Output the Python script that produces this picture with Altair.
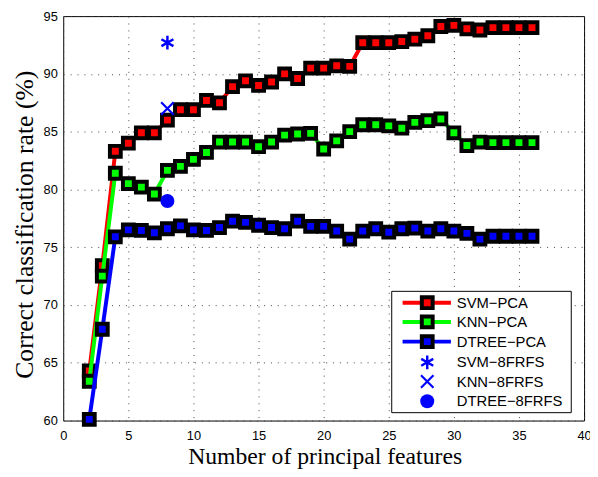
import altair as alt
import pandas as pd

features = list(range(2, 37))
svm_pca = [64.3, 73.4, 83.3, 84.0, 84.9, 84.9, 86.0, 86.9, 86.9, 87.7, 87.5, 88.9, 89.4, 89.0,
           89.3, 90.0, 89.6, 90.5, 90.5, 90.7, 90.65, 92.7, 92.7, 92.7, 92.8, 93.0, 93.3, 94.1,
           94.2, 93.9, 93.8, 94.0, 94.0, 94.0, 94.0]
knn_pca = [63.4, 72.5, 81.4, 80.5, 80.2, 79.6, 81.65, 82.0, 82.6, 83.2, 84.1, 84.1, 84.1, 83.7,
           84.1, 84.7, 84.8, 84.85, 83.5, 84.2, 85.0, 85.6, 85.6, 85.5, 85.3, 85.8, 85.95, 86.1,
           84.9, 83.8, 84.1, 84.05, 84.05, 84.05, 84.05]
dtree_pca = [60.1, 67.9, 75.9, 76.5, 76.45, 76.25, 76.6, 76.85, 76.5, 76.45, 76.7, 77.25, 77.15,
             76.9, 76.7, 76.6, 77.25, 76.8, 76.8, 76.4, 75.7, 76.4, 76.6, 76.3, 76.6, 76.65, 76.4,
             76.6, 76.4, 76.2, 75.7, 75.95, 75.95, 75.95, 75.95]

frfs_x = 8
svm_8frfs = 92.7
knn_8frfs = 87.0
dtree_8frfs = 79.0

series_names = ["SVM−PCA", "KNN−PCA", "DTREE−PCA"]
series_vals = [svm_pca, knn_pca, dtree_pca]
series_colors = ["#ff0000", "#00ff00", "#0000ff"]
frfs_names = ["SVM−8FRFS", "KNN−8FRFS", "DTREE−8FRFS"]

W, H = 528, 410

xscale = alt.Scale(domain=[0, 40], nice=False, zero=False)
yscale = alt.Scale(domain=[60, 95], nice=False, zero=False)

x_axis = alt.Axis(values=list(range(0, 41, 5)), title="Number of principal features",
                  grid=True, ticks=False, tickSize=0, domain=False, labelPadding=9,
                  labelFont="Liberation Sans", labelFontSize=13, labelColor="#000",
                  titleFont="Liberation Serif", titleFontSize=24, titleFontWeight="normal",
                  titleColor="#000", titleBaseline="alphabetic", titleY=44, titleX=W / 2 + 1,
                  gridColor="#444", gridDash=[1, 6], gridWidth=1, labelFlush=False)
y_axis = alt.Axis(values=list(range(60, 96, 5)), title="Correct classification rate (%)",
                  grid=True, ticks=False, tickSize=0, domain=False, labelPadding=6,
                  labelFont="Liberation Sans", labelFontSize=13, labelColor="#000",
                  titleFont="Liberation Serif", titleFontSize=26, titleFontWeight="normal",
                  titleColor="#000", titleBaseline="alphabetic", titleX=-31, titleY=211,
                  titleAngle=-90, gridColor="#444", gridDash=[1, 6], gridWidth=1)


def enc():
    return dict(x=alt.X("x:Q", scale=xscale, axis=x_axis),
                y=alt.Y("y:Q", scale=yscale, axis=y_axis))


layers = []
for i, (name, vals, col) in enumerate(zip(series_names, series_vals, series_colors)):
    df = pd.DataFrame({"x": features, "y": vals, "s": name})
    line = alt.Chart(df).mark_line(color=col, strokeWidth=4).encode(**enc())
    pts = alt.Chart(df).mark_point(shape="square", filled=True, fill=col, stroke="#000",
                                   strokeWidth=4, size=121, opacity=1).encode(**enc())
    layers += [line, pts]

asterisk = "M0,-1L0,1M-0.87,-0.5L0.87,0.5M-0.87,0.5L0.87,-0.5"
xmark = "M-1,-1L1,1M-1,1L1,-1"

df_svm8 = pd.DataFrame({"x": [frfs_x], "y": [svm_8frfs]})
df_knn8 = pd.DataFrame({"x": [frfs_x], "y": [knn_8frfs]})
df_dt8 = pd.DataFrame({"x": [frfs_x], "y": [dtree_8frfs]})
layers.append(alt.Chart(df_svm8).mark_point(shape=asterisk, filled=False, stroke="#0000ff",
                                            strokeWidth=2.5, size=196, opacity=1).encode(**enc()))
layers.append(alt.Chart(df_knn8).mark_point(shape=xmark, filled=False, stroke="#0000ff",
                                            strokeWidth=2.2, size=160, opacity=1).encode(**enc()))
layers.append(alt.Chart(df_dt8).mark_point(shape="circle", filled=True, fill="#0000ff",
                                           size=201, opacity=1).encode(**enc()))

# Legend (manual, MATLAB-style box)
base = alt.Chart(pd.DataFrame({"a": [0]}))
lx0, lx1, ly0, ly1 = 333, 515, 279, 402
layers.append(base.mark_rect(fill="#fff", stroke="#000", strokeWidth=1).encode(
    x=alt.value(lx0), x2=alt.value(lx1), y=alt.value(ly0), y2=alt.value(ly1)))
row_y = [290.5, 310, 330, 351, 370.5, 390.5]
sym_x = 369
for i, (name, col) in enumerate(zip(series_names, series_colors)):
    layers.append(base.mark_rule(color=col, strokeWidth=4).encode(
        x=alt.value(344), x2=alt.value(393), y=alt.value(row_y[i])))
    layers.append(base.mark_point(shape="square", filled=True, fill=col, stroke="#000",
                                  strokeWidth=4, size=121, opacity=1).encode(
        x=alt.value(sym_x), y=alt.value(row_y[i])))
layers.append(base.mark_point(shape=asterisk, filled=False, stroke="#0000ff", strokeWidth=2.5,
                              size=196, opacity=1).encode(x=alt.value(sym_x), y=alt.value(row_y[3])))
layers.append(base.mark_point(shape=xmark, filled=False, stroke="#0000ff", strokeWidth=2.2,
                              size=160, opacity=1).encode(x=alt.value(sym_x), y=alt.value(row_y[4])))
layers.append(base.mark_point(shape="circle", filled=True, fill="#0000ff", size=201,
                              opacity=1).encode(x=alt.value(sym_x), y=alt.value(row_y[5])))
for i, name in enumerate(series_names + frfs_names):
    layers.append(base.mark_text(align="left", baseline="middle", font="Liberation Sans",
                                 fontSize=15, color="#000").encode(
        x=alt.value(399), y=alt.value(row_y[i]), text=alt.value(name)))

chart = alt.layer(*layers).properties(
    width=W, height=H,
    autosize=alt.AutoSizeParams(type="none"),
    padding={"left": 56, "top": 5, "right": 6, "bottom": 54},
    background="#ffffff",
).configure_view(stroke="#000", strokeWidth=1)

chart.save("out.html", embed_options={"renderer": "svg", "actions": False})
